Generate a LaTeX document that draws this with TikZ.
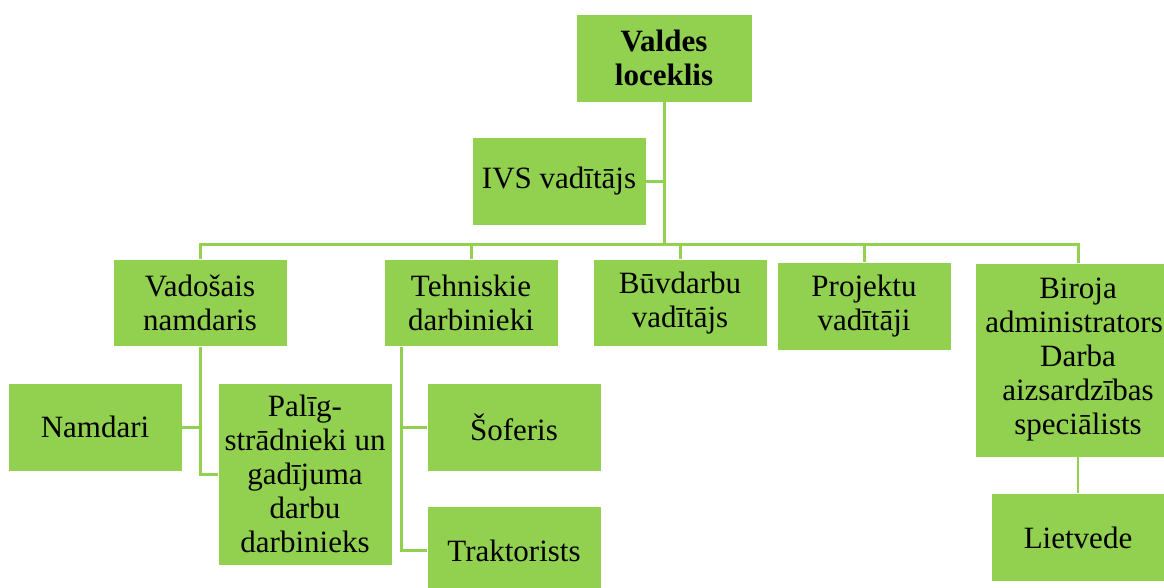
\documentclass[tikz,border=0pt]{standalone}
\usepackage{fontspec}
\setmainfont{Liberation Serif}
\usepackage{xcolor}
\usetikzlibrary{positioning}

\definecolor{boxgreen}{HTML}{92D050}

\begin{document}
\begin{tikzpicture}[
    x=1pt, y=-1pt,
    node distance=35pt and 35pt,
    unit/.style={rectangle, draw=white, line width=0.8pt, fill=boxgreen, inner sep=0pt, minimum width=174pt, minimum height=88pt, align=center, font=\fontsize{31}{34}\selectfont},
    link/.style={draw=boxgreen, line width=3pt},
]
    \useasboundingbox[fill=white] (0,0) rectangle (1164,587);

    % Top of the chart
    \node[unit, minimum width=176pt, font=\fontsize{31}{34}\selectfont\bfseries] (valde) at (664,58) {Valdes\\loceklis};
    \node[unit] (ivs) at (559,181) {IVS vad\={\i}t\={a}js};

    % Second level
    \node[unit, minimum height=87pt] (vadnam) at (200,303) {Vado\v{s}ais\\namdaris};
    \node[unit, minimum height=87pt] (tehn) at (471,303) {Tehniskie\\darbinieki};
    \node[unit, minimum height=87pt] (buvd) at (680,303) {B\={u}vdarbu\\vad\={\i}t\={a}js};
    \node[unit] (proj) at (864,306) {Projektu\\vad\={\i}t\={a}ji};
    \node[unit, minimum width=206pt, minimum height=194pt] (biroja) at (1078,360) {Biroja\\administrators,\\Darba\\aizsardz\={\i}bas\\speci\={a}lists};

    % Third level
    \node[unit] (namdari) at (95,427) {Namdari};
    \node[unit, minimum height=182pt] (palig) at (305,474) {Pal\={\i}g-\\str\={a}dnieki un\\gad\={\i}juma\\darbu\\darbinieks};
    \node[unit] (sofer) at (514,427) {\v{S}oferis};
    \node[unit, below=35pt of sofer] (trakt) {Traktorists};
    \node[unit, below=36pt of biroja] (lietv) {Lietvede};

    % Connectors
    \coordinate (bus) at (664,244);
    \draw[link] (valde) -- (bus);
    \draw[link] (ivs.east) -- (ivs.east -| valde.south);
    \foreach \n in {vadnam, tehn, buvd, proj, biroja}
        \draw[link] (\n.north) |- (bus);

    \draw[link] (vadnam.south) |- (palig.west);
    \draw[link] (namdari.east) -- (namdari.east -| vadnam.south);

    \coordinate (tehtrunk) at ([xshift=18pt]tehn.south west);
    \draw[link] (tehtrunk) |- (trakt.west);
    \draw[link] (sofer.west) -- (sofer.west -| tehtrunk);

    \draw[link, line width=1.5pt] (biroja) -- (lietv);
\end{tikzpicture}
\end{document}
